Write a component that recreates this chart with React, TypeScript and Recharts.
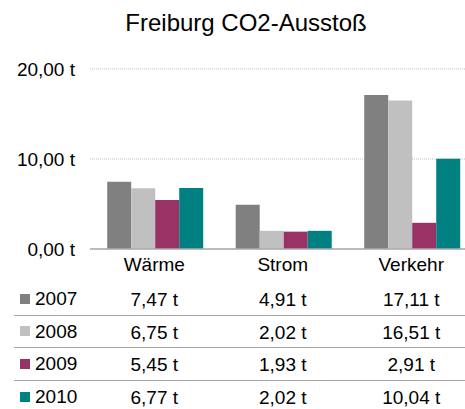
import React from 'react';
import { BarChart, Bar, XAxis, YAxis, CartesianGrid } from 'recharts';

const categories = ['Wärme', 'Strom', 'Verkehr'];
const years = ['2007', '2008', '2009', '2010'];
const values2007 = [7.47, 4.91, 17.11];
const values2008 = [6.75, 2.02, 16.51];
const values2009 = [5.45, 1.93, 2.91];
const values2010 = [6.77, 2.02, 10.04];
const seriesValues = [values2007, values2008, values2009, values2010];
const colors = ['#808080', '#C0C0C0', '#993366', '#008080'];
const yTicks = [0, 10, 20];
const title = 'Freiburg CO2-Ausstoß';

const FONT = '"Liberation Sans", Arial, sans-serif';
const ROW_H = 32.5;
const TABLE_TOP = 283.2;

const data = categories.map((name, i) => {
  const row: Record<string, any> = { name };
  years.forEach((y, s) => {
    row[y] = seriesValues[s][i];
  });
  return row;
});

const fmt = (v: number) => v.toFixed(2).replace('.', ',') + ' t';

const CategoryTick = (props: any) => {
  const { x, y, payload } = props;
  const ci = categories.indexOf(payload.value);
  return (
    <g>
      <text x={x} y={y + 22} textAnchor="middle" fontSize={19} fontFamily={FONT} fill="#000">
        {payload.value}
      </text>
      {years.map((yr, s) => (
        <text
          key={yr}
          x={x}
          y={TABLE_TOP + ROW_H * s + ROW_H / 2 + 6.8}
          textAnchor="middle"
          fontSize={19}
          fontFamily={FONT}
          fill="#000"
        >
          {fmt(seriesValues[s][ci])}
        </text>
      ))}
    </g>
  );
};

export default function App() {
  return (
    <div
      style={{
        position: 'absolute',
        left: 0,
        top: 0,
        width: 465,
        height: 409,
        overflow: 'hidden',
        background: '#fff',
        fontFamily: FONT,
      }}
    >
      <div
        style={{
          position: 'absolute',
          left: 0,
          top: 10.7,
          width: 492,
          textAlign: 'center',
          fontSize: 24,
          lineHeight: '24px',
          color: '#000',
          whiteSpace: 'nowrap',
        }}
      >
        {title}
      </div>
      <div style={{ position: 'absolute', left: 0, top: 0 }}>
        <BarChart
          width={490}
          height={409}
          data={data}
          margin={{ top: 69, right: 14.5, bottom: 0, left: 0 }}
          barCategoryGap="13.4%"
          barGap={0}
        >
          <CartesianGrid vertical={false} stroke="#BFBFBF" strokeDasharray="1 1" />
          <YAxis
            width={90}
            domain={[0, 20]}
            ticks={yTicks}
            axisLine={false}
            tickLine={false}
            tickSize={0}
            tickMargin={15}
            tickFormatter={(v: number) => fmt(v)}
            tick={{ fontSize: 19, fontFamily: FONT, fill: '#000' }}
          />
          <XAxis
            dataKey="name"
            height={160}
            tickLine={false}
            tickSize={0}
            tickMargin={0}
            axisLine={{ stroke: '#ABABAB', strokeWidth: 1.5 }}
            tick={<CategoryTick />}
            interval={0}
          />
          {years.map((yr, s) => (
            <Bar key={yr} dataKey={yr} fill={colors[s]} isAnimationActive={false} />
          ))}
        </BarChart>
      </div>
      {years.map((yr, s) => (
        <div
          key={yr}
          style={{
            position: 'absolute',
            left: 14,
            top: TABLE_TOP + ROW_H * s,
            width: 451,
            height: ROW_H,
            borderBottom: s < years.length - 1 ? '1.5px solid #A6A6A6' : 'none',
            boxSizing: 'border-box',
            display: 'flex',
            alignItems: 'center',
            pointerEvents: 'none',
          }}
        >
          <div style={{ width: 10, height: 10, background: colors[s], marginLeft: 6, marginRight: 5 }} />
          <span style={{ fontSize: 19, color: '#000', lineHeight: '19px' }}>{yr}</span>
        </div>
      ))}
    </div>
  );
}
